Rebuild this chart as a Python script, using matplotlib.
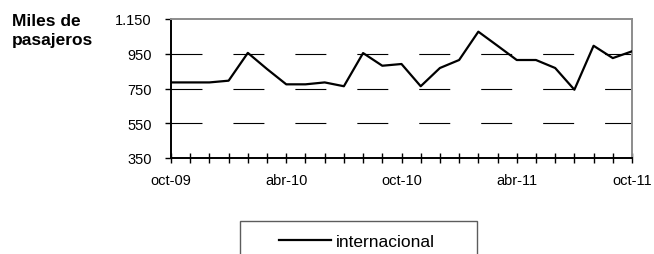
import matplotlib.pyplot as plt
from matplotlib.legend_handler import HandlerLine2D

plt.rcParams['font.family'] = ['Liberation Sans', 'DejaVu Sans']
plt.rcParams['lines.scale_dashes'] = False

# monthly data, oct-09 .. oct-11
months = list(range(25))
internacional = [785, 785, 785, 795, 955, 862, 774, 774, 785, 763, 954, 881, 891,
                 763, 868, 914, 1077, 996, 914, 914, 868, 743, 996, 925, 964]
xtick_pos = [0, 6, 12, 18, 24]
xtick_labels = ['oct-09', 'abr-10', 'oct-10', 'abr-11', 'oct-11']
ytick_vals = [350, 550, 750, 950, 1150]
ytick_labels = ['350', '550', '750', '950', '1.150']

fig = plt.figure(figsize=(6.54, 2.55), dpi=100)
ax = fig.add_axes([171/654, 1-159/255, 461/654, 139/255])

for v in ytick_vals[1:-1]:
    ax.axhline(v, color='black', lw=0.8, dashes=(22.3, 22.3), zorder=1)

line, = ax.plot(months, internacional, color='black', lw=1.6, zorder=3,
                label='internacional')

ax.set_xlim(0, 24)
ax.set_ylim(350, 1150)
ax.set_xticks(months, minor=True)
ax.set_xticks(xtick_pos)
ax.set_xticklabels(xtick_labels, fontsize=10.5)
ax.set_yticks(ytick_vals)
ax.set_yticklabels(ytick_labels, fontsize=10.5)
ax.tick_params(axis='x', which='both', direction='inout', length=7, width=1,
               pad=7)
ax.tick_params(axis='y', direction='out', length=4, width=1, pad=10)

for s in ['left', 'bottom']:
    ax.spines[s].set_color('black')
    ax.spines[s].set_linewidth(1.4)
for s in ['top', 'right']:
    ax.spines[s].set_color('#8c8c8c')
    ax.spines[s].set_linewidth(1.4)

fig.text(12/654, 1-14/255, 'Miles de\npasajeros', fontsize=12.5,
         fontweight='bold', ha='left', va='top', linespacing=1.35)

leg = fig.legend(handles=[line], loc='upper left',
                 bbox_to_anchor=(240/654, 1-222/255, 237/654, 0),
                 mode='expand', fontsize=12.5, borderpad=0.75,
                 borderaxespad=0, handlelength=4.5, handletextpad=0.3,
                 fancybox=False,
                 handler_map={line: HandlerLine2D(xpad=1.5)})
leg.get_frame().set_edgecolor('#333333')
leg.get_frame().set_linewidth(1.0)

fig.savefig('out.png', dpi=100)
